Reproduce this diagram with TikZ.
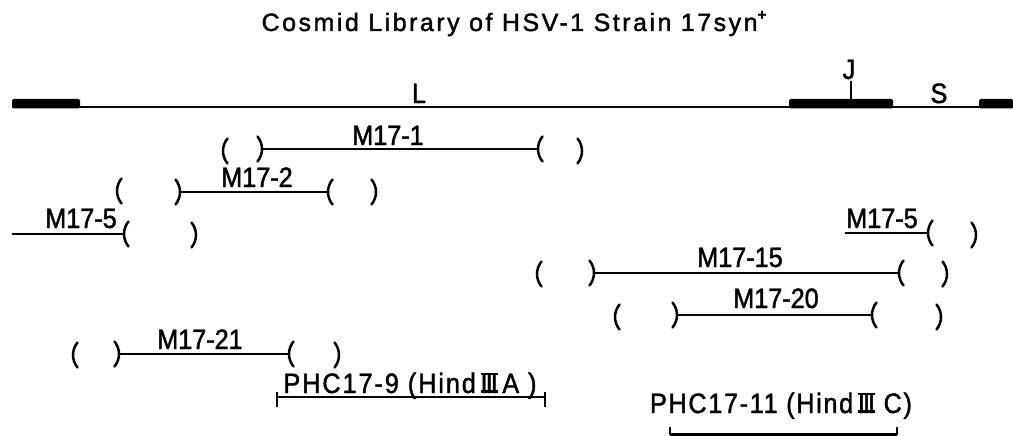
\documentclass[tikz,border=0pt]{standalone}
\usepackage{fontspec}
\setmainfont{Liberation Sans}[FakeStretch=0.9, FakeBold=1.5]
\newfontfamily\titlefont{Liberation Sans}[LetterSpace=10, FakeBold=1.5]
\newfontfamily\phcfont{Liberation Sans}[LetterSpace=6, FakeStretch=0.9, FakeBold=1.5]
\newfontfamily\phcwidefont{Liberation Sans}[LetterSpace=7, FakeStretch=0.9, FakeBold=1.5]
\newcommand{\lblfont}{\fontsize{28}{32}\selectfont}
\newcommand{\romIII}{\mbox{\setbox0=\hbox{I\kern-0.07em I\kern-0.07em I}\rlap{\rule{\wd0}{0.09em}}\rlap{\rule[0.63em]{\wd0}{0.09em}}\box0}}
\tikzset{
  genome/.style={line width=2.4pt},
  block/.style={fill=black, rounded corners=1.5pt},
  clone/.style={line width=2.3pt},
  paren/.style={line width=2.5pt, line cap=round},
  lbl/.style={font=\lblfont, inner sep=0pt, anchor=base},
  tickmark/.style={line width=2.3pt},
  lp/.pic={\draw[paren] (4.5,-12.5) .. controls (-1.5,-5) and (-1.5,5) .. (4.5,12.5);},
  rp/.pic={\draw[paren] (-4.5,-12.5) .. controls (1.5,-5) and (1.5,5) .. (-4.5,12.5);}
}
\begin{document}
\begin{tikzpicture}[x=1pt,y=-1pt]
\useasboundingbox (0,0) rectangle (1013,436);

% title
\node[lbl] (title) at (514,31) {\titlefont\fontsize{25}{30}\selectfont Cosmid Library of HSV-1 Strain 17syn\raisebox{0.45em}{\fontsize{15}{15}\selectfont\bfseries +}};

% genome map
\coordinate (gL) at (12,107);
\coordinate (gR) at (1013,107);
\draw[genome] (gL) -- (gR);
\fill[block] (12,99) rectangle (80,108.5);
\fill[block] (789,99) rectangle (893,108.5);
\fill[block] (979,99) rectangle (1013,108.5);
\node[lbl] (L) at (419,103) {L};
\node[lbl] (J) at (849,79) {J};
\coordinate (jt) at (851,99);
\draw[tickmark] (J.south -| jt) ++(0,2) -- (jt);
\node[lbl] (S) at (939,103) {S};

% M17-1
\coordinate (m1a) at (262,149);
\coordinate (m1b) at (538,149);
\draw[clone] (m1a) -- (m1b);
\pic at (223,151) {lp};
\pic at (m1a) {rp};
\pic at (m1b) {lp};
\pic at (582,151) {rp};
\node[lbl] (t1) at (388,145) {M17-1};

% M17-2
\coordinate (m2a) at (180,192);
\coordinate (m2b) at (328,192);
\draw[clone] (m2a) -- (m2b);
\pic at (117,191) {lp};
\pic at (m2a) {rp};
\pic at (m2b) {lp};
\pic at (376,192) {rp};
\node[lbl] (t2) at (257,187) {M17-2};

% M17-5 left
\coordinate (m5a) at (12,234);
\coordinate (m5b) at (124,234);
\draw[clone] (m5a) -- (m5b);
\pic at (m5b) {lp};
\pic at (196,235) {rp};
\node[lbl] (t5a) at (81,228) {M17-5};

% M17-5 right
\coordinate (m5c) at (845,233);
\coordinate (m5d) at (928,233);
\draw[clone] (m5c) -- (m5d);
\pic at (m5d) {lp};
\pic at (976,235) {rp};
\node[lbl] (t5b) at (882,228) {M17-5};

% M17-15
\coordinate (m15a) at (594,273);
\coordinate (m15b) at (899,273);
\draw[clone] (m15a) -- (m15b);
\pic at (537,274) {lp};
\pic at (m15a) {rp};
\pic at (m15b) {lp};
\pic at (947,274) {rp};
\node[lbl] (t15) at (740,267) {M17-15};

% M17-20
\coordinate (m20a) at (677,315);
\coordinate (m20b) at (872,315);
\draw[clone] (m20a) -- (m20b);
\pic at (615,317) {lp};
\pic at (m20a) {rp};
\pic at (m20b) {lp};
\pic at (941,317) {rp};
\node[lbl] (t20) at (776,308) {M17-20};

% M17-21
\coordinate (m21a) at (119,354);
\coordinate (m21b) at (289,354);
\draw[clone] (m21a) -- (m21b);
\pic at (73,355) {lp};
\pic at (m21a) {rp};
\pic at (m21b) {lp};
\pic at (339,355) {rp};
\node[lbl] (t21) at (200,349) {M17-21};

% PHC17-9
\coordinate (p9a) at (277,397);
\coordinate (p9b) at (545,397);
\draw[clone] (p9a) -- (p9b);
\draw[tickmark] (277,392) -- (277,407);
\draw[tickmark] (545,392) -- (545,407);
\node[lbl] (tp9) at (410,393) {\phcwidefont\lblfont PHC17-9 (Hind\,\romIII\,A )};

% PHC17-11
\coordinate (p11a) at (670,434.5);
\coordinate (p11b) at (897,434.5);
\draw[clone] (p11a) -- (p11b);
\draw[tickmark] (670,427) -- (p11a);
\draw[tickmark] (897,427) -- (p11b);
\node[lbl] (tp11) at (781,413) {\phcfont\lblfont PHC17-11 (Hind\,\romIII\ C)};
\end{tikzpicture}
\end{document}
